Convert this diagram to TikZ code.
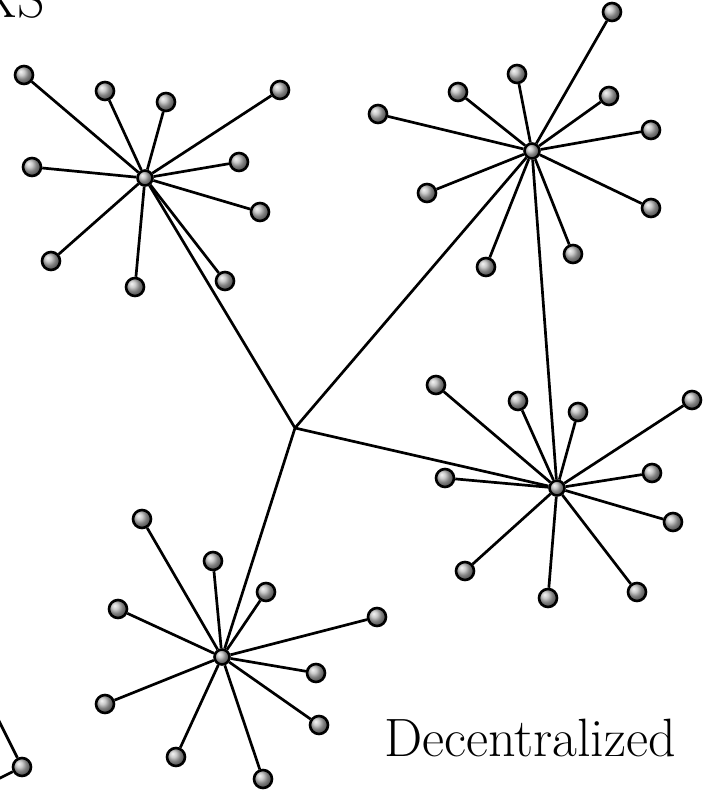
\documentclass[tikz,border=0pt]{standalone}
\usepackage{tikz}

\begin{document}
\begin{tikzpicture}[x = 1pt, y = -1pt, font = \fontsize{54}{64}\selectfont]
\tikzset{
  ball/.style = {circle, draw, line width = 2.6pt, shading = ball, ball color = gray!55, minimum size = 18pt, inner sep = 0pt},
  hub/.style = {ball, minimum size = 15pt},
  link/.style = {line width = 2.7pt},
  junction/.style = {coordinate},
}
\useasboundingbox (0,0) rectangle (715,795);
\node [anchor = base east, inner sep = 0pt] (titleTail) at (45,17) {KS};
\node [anchor = base west, inner sep = 0pt] (caption) at (384,756) {Decentralized};
\node [junction] (center) at (295,428) {};
\node [hub] (hubTopLeft) at (145,178) {};
\node [hub] (hubTopRight) at (532,151) {};
\node [hub] (hubRight) at (557,488) {};
\node [hub] (hubBottom) at (222,657) {};
\draw [link] (hubTopLeft) -- (center);
\draw [link] (hubTopRight) -- (center);
\draw [link] (hubRight) -- (center);
\draw [link] (hubBottom) -- (center);
\draw [link] (hubTopRight) -- (hubRight);
% leaves of each hub
\foreach \x/\y [count = \i] in {24/75, 105/91, 166/102, 280/90, 32/167, 239/162, 260/212, 51/261, 135/287, 225/281} {
  \node [ball] (leafTopLeft\i) at (\x,\y) {};
  \draw [link] (hubTopLeft) -- (leafTopLeft\i);
}
\foreach \x/\y [count = \i] in {612/12, 378/114, 458/92, 517/74, 609/96, 651/130, 427/193, 651/208, 486/267, 573/254} {
  \node [ball] (leafTopRight\i) at (\x,\y) {};
  \draw [link] (hubTopRight) -- (leafTopRight\i);
}
\foreach \x/\y [count = \i] in {436/385, 518/401, 578/412, 692/400, 445/478, 652/473, 673/522, 465/571, 548/598, 637/592} {
  \node [ball] (leafRight\i) at (\x,\y) {};
  \draw [link] (hubRight) -- (leafRight\i);
}
\foreach \x/\y [count = \i] in {142/519, 213/561, 266/592, 377/617, 118/609, 316/673, 105/704, 319/725, 176/757, 263/779} {
  \node [ball] (leafBottom\i) at (\x,\y) {};
  \draw [link] (hubBottom) -- (leafBottom\i);
}
% edge of the next picture
\node [ball] (leafOuter) at (22,767) {};
\coordinate (outerHubA) at (-40,643);
\coordinate (outerHubB) at (-40,798);
\draw [link] (outerHubA) -- (leafOuter);
\draw [link] (outerHubB) -- (leafOuter);
\end{tikzpicture}
\end{document}
